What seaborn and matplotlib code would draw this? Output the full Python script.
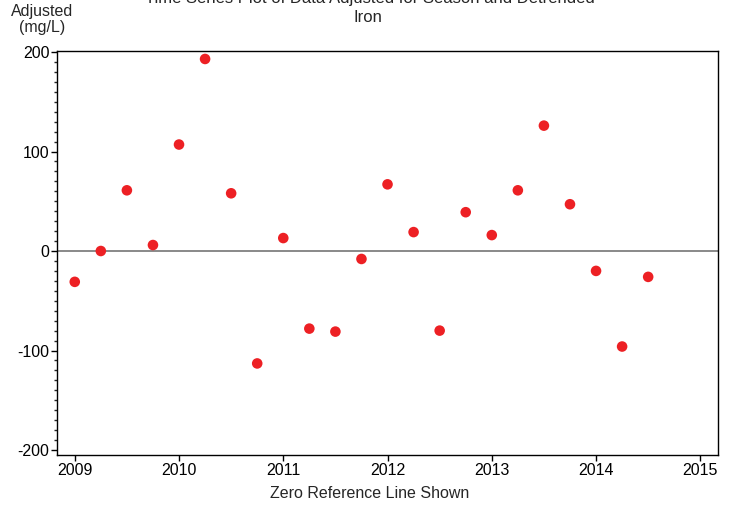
import numpy as np
import pandas as pd
import seaborn as sns
import matplotlib.pyplot as plt
from matplotlib.ticker import MultipleLocator

# quarterly time (decimal year) and adjusted iron values (mg/L)
time = [2009.0, 2009.25, 2009.5, 2009.75, 2010.0, 2010.25, 2010.5, 2010.75,
        2011.0, 2011.25, 2011.5, 2011.75, 2012.0, 2012.25, 2012.5, 2012.75,
        2013.0, 2013.25, 2013.5, 2013.75, 2014.0, 2014.25, 2014.5]
adjusted = [-31, 0, 61, 6, 107, 193, 58, -113,
            13, -78, -81, -8, 67, 19, -80, 39,
            16, 61, 126, 47, -20, -96, -26]
x_ticks = [2009, 2010, 2011, 2012, 2013, 2014, 2015]
y_ticks = [-200, -100, 0, 100, 200]

df = pd.DataFrame({'Time': time, 'Adjusted': adjusted})

sns.set_style("ticks")
plt.rcParams['font.family'] = ['Liberation Sans', 'DejaVu Sans']
plt.rcParams['axes.unicode_minus'] = False

fig = plt.figure(figsize=(7.35, 5.07), dpi=100)
ax = fig.add_axes([0.0776, 0.1026, 0.8993, 0.7968])

ax.axhline(0, color='#808080', linewidth=1.3, zorder=1)
sns.scatterplot(data=df, x='Time', y='Adjusted', ax=ax, color='#ED2024',
                s=58, edgecolor='none', zorder=3)

ax.set_xlim(2008.83, 2015.17)
ax.set_ylim(-205, 201)
ax.set_xticks(x_ticks)
ax.set_yticks(y_ticks)
ax.yaxis.set_minor_locator(MultipleLocator(10))
ax.tick_params(axis='both', which='major', direction='out', length=4,
               width=1, labelsize=11.5, colors='black', pad=1.5)
ax.tick_params(axis='y', which='minor', direction='out', length=2.5, width=1)
for sp in ax.spines.values():
    sp.set_visible(True)
    sp.set_color('black')
    sp.set_linewidth(1)

ax.set_xlabel('')
ax.set_ylabel('')

fig.text(0.503, 0.027, 'Zero Reference Line Shown', ha='center', va='center',
         fontsize=11.5)
fig.text(0.503, 1.0 + 0.003, 'Time Series Plot of Data Adjusted for Season and Detrended',
         ha='center', va='center', fontsize=12)
fig.text(0.501, 0.966, 'Iron', ha='center', va='center', fontsize=12)
fig.text(0.057, 0.961, 'Adjusted\n(mg/L)', ha='center', va='center', fontsize=11.5,
         linespacing=1.05)

fig.savefig('out.png', dpi=100)
